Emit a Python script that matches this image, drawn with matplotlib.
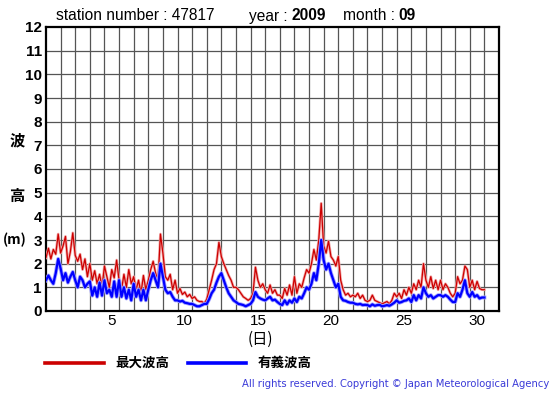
import numpy as np
import matplotlib.pyplot as plt

# wave height (m) every 4 hours, 2009-09-01 00h .. 2009-10-01 00h
max_wave = [
    2.25, 2.65, 2.2, 2.6, 2.4, 3.25,
    2.45, 2.75, 3.15, 2.0, 2.5, 3.3,
    2.35, 2.1, 2.4, 1.75, 2.2, 1.45,
    2.0, 1.3, 1.7, 1.15, 1.55, 1.0,
    1.9, 1.45, 1.0, 1.75, 1.4, 2.15,
    1.3, 0.9, 1.55, 1.0, 1.75, 1.15,
    1.45, 0.9, 1.3, 0.75, 1.5, 0.9,
    1.3, 1.75, 2.1, 1.6, 1.3, 3.25,
    2.45, 1.45, 1.3, 1.55, 0.9, 1.3,
    0.75, 0.95, 0.7, 0.8, 0.6, 0.7,
    0.53, 0.6, 0.45, 0.4, 0.4, 0.32,
    0.5, 0.9, 1.3, 1.75, 2.0, 2.9,
    2.3, 2.0, 1.75, 1.5, 1.3, 1.0,
    1.0, 0.9, 0.75, 0.6, 0.53, 0.45,
    0.53, 0.75, 1.85, 1.3, 1.0, 1.15,
    0.9, 0.75, 1.1, 0.75, 0.9, 0.67,
    0.67, 0.53, 0.95, 0.67, 1.1, 0.67,
    1.45, 0.75, 1.15, 1.0, 1.4, 1.75,
    1.6, 2.0, 2.6, 2.15, 3.0, 4.55,
    2.75, 2.45, 2.95, 2.3, 2.15, 1.9,
    2.3, 1.3, 0.9, 0.67, 0.75, 0.6,
    0.67, 0.6, 0.75, 0.53, 0.67, 0.45,
    0.4, 0.45, 0.67, 0.45, 0.4, 0.35,
    0.3, 0.35, 0.4, 0.3, 0.45, 0.75,
    0.6, 0.75, 0.53, 0.9, 0.67, 1.0,
    0.75, 1.15, 0.9, 1.3, 1.0, 2.0,
    1.3, 1.0, 1.45, 0.95, 1.3, 0.9,
    1.3, 0.9, 1.15, 1.0, 0.75, 0.6,
    0.75, 1.45, 1.15, 1.3, 1.9, 1.75,
    1.0, 1.3, 0.9, 1.25, 0.95, 0.9,
    0.9,
]
sig_wave = [
    1.3, 1.5, 1.3, 1.15, 1.6, 2.2,
    1.8, 1.3, 1.6, 1.2, 1.45, 1.65,
    1.3, 1.0, 1.45, 1.3, 1.0, 1.15,
    1.25, 0.65, 1.0, 0.6, 1.2, 0.65,
    1.3, 0.75, 0.9, 0.6, 1.25, 0.6,
    1.3, 0.6, 1.0, 0.53, 0.9, 0.45,
    1.15, 0.6, 0.9, 0.45, 0.9, 0.45,
    0.9, 1.3, 1.6, 1.3, 1.0, 2.0,
    1.45, 0.9, 0.75, 0.8, 0.6, 0.45,
    0.45, 0.4, 0.43, 0.35, 0.33, 0.3,
    0.3, 0.25, 0.2, 0.2, 0.25, 0.3,
    0.3, 0.5, 0.75, 0.9, 1.2, 1.45,
    1.6, 1.3, 1.0, 0.75, 0.6, 0.45,
    0.38, 0.3, 0.28, 0.25, 0.2, 0.25,
    0.3, 0.45, 0.8, 0.6, 0.53, 0.48,
    0.45, 0.53, 0.6, 0.45, 0.48, 0.38,
    0.3, 0.25, 0.45, 0.28, 0.45, 0.35,
    0.53, 0.38, 0.6, 0.53, 0.75, 1.0,
    0.9, 1.15, 1.6, 1.3, 2.0, 3.0,
    2.15, 1.75, 2.0, 1.6, 1.3, 1.0,
    1.15, 0.6, 0.45, 0.43, 0.38, 0.35,
    0.35, 0.3, 0.28, 0.3, 0.25, 0.26,
    0.25, 0.2, 0.28, 0.22, 0.25, 0.26,
    0.2, 0.22, 0.25, 0.22, 0.28, 0.35,
    0.45, 0.35, 0.38, 0.43, 0.45, 0.53,
    0.38, 0.67, 0.45, 0.67, 0.53, 1.0,
    0.75, 0.6, 0.67, 0.53, 0.6, 0.67,
    0.67, 0.6, 0.67, 0.6, 0.48, 0.38,
    0.38, 0.75, 0.6, 0.9, 1.3, 0.75,
    0.6, 0.8, 0.6, 0.67, 0.53, 0.57,
    0.57,
]
day_ticks = [5, 10, 15, 20, 25, 30]
y_ticks = list(range(0, 13))

t = np.arange(len(max_wave)) * 4 / 24.0  # days since 1st 00h

jp = ['Noto Sans CJK JP', 'DejaVu Sans']
plt.rcParams['font.family'] = ['Liberation Sans', 'DejaVu Sans']

fig = plt.figure(figsize=(5.55, 3.95), dpi=100)
ax = fig.add_axes([46 / 555, 84 / 395, 453 / 555, 284 / 395])

# light halo under each line, like the original antialiased look
ax.plot(t, max_wave, color='#f2a8a8', lw=2.0, zorder=3)
ax.plot(t, max_wave, color='#cc0000', lw=0.9, zorder=4)
ax.plot(t, sig_wave, color='#9f9fff', lw=2.8, zorder=5)
ax.plot(t, sig_wave, color='#0000ff', lw=1.6, zorder=6)

ax.set_xlim(0, 31)
ax.set_ylim(0, 12)
ax.set_xticks([d - 0.5 for d in day_ticks])
ax.set_xticklabels([str(d) for d in day_ticks], fontsize=11)
ax.set_yticks(y_ticks)
ax.set_yticklabels([str(v) for v in y_ticks], fontsize=11, fontweight='bold')
ax.tick_params(axis='both', which='both', length=0, pad=3)
ax.tick_params(axis='x', pad=2)
ax.grid(False)
for x in range(1, 31):
    ax.axvline(x, color='#555555', lw=0.9, zorder=1)
for y in range(1, 12):
    ax.axhline(y, color='#555555', lw=0.9, zorder=1)
for s in ax.spines.values():
    s.set_linewidth(1.6)

# header
hy = 1 - 16 / 395
fig.text(56 / 555, hy, 'station number : 47817', fontsize=11.2, va='center')
fig.text(249 / 555, hy, 'year : ', fontsize=11.2, va='center')
fig.text(292 / 555, hy, '2009', fontsize=11.2, va='center', fontweight='bold')
fig.text(343 / 555, hy, 'month : ', fontsize=11.2, va='center')
fig.text(398 / 555, hy, '09', fontsize=11.2, va='center', fontweight='bold')

# y label pieces
fig.text(17 / 555, 1 - 140 / 395, '波', family=jp, fontsize=11, fontweight='bold', ha='center', va='center')
fig.text(17 / 555, 1 - 196 / 395, '高', family=jp, fontsize=11, fontweight='bold', ha='center', va='center')
fig.text(15 / 555, 1 - 240 / 395, '(m)', family=jp, fontsize=10, fontweight='bold', ha='center', va='center')
fig.text(260 / 555, 1 - 339 / 395, '(日)', family=jp, fontsize=11, ha='center', va='center')

# legend
ly = 1 - 363 / 395
fig.add_artist(plt.Line2D([45 / 555, 104 / 555], [ly, ly], color='#cc0000', lw=2.6))
fig.text(115 / 555, ly, '最大波高', family=jp, fontsize=9.7, fontweight='bold', va='center')
fig.add_artist(plt.Line2D([188 / 555, 246 / 555], [ly, ly], color='#0000ff', lw=2.6))
fig.text(258 / 555, ly, '有義波高', family=jp, fontsize=9.7, fontweight='bold', va='center')

fig.text(549 / 555, 1 - 384 / 395, 'All rights reserved. Copyright \u00a9 Japan Meteorological Agency',
         family='DejaVu Sans', fontsize=7.2, color='#3a3ad8', ha='right', va='center')

fig.savefig('out.png', dpi=100)
